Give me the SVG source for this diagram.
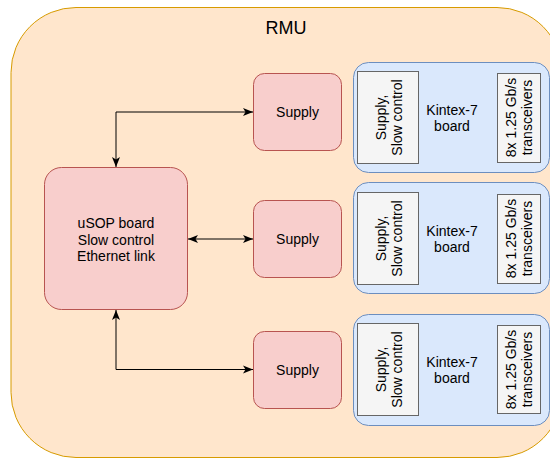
<svg xmlns="http://www.w3.org/2000/svg" width="550" height="458" viewBox="0 0 550 458">
  <style>
    text { font-family: "Liberation Sans", Arial, sans-serif; font-size: 14px; fill: #000; text-anchor: middle; }
    .outer { fill: #ffe6cc; stroke: #d79b00; stroke-width: 1; }
    .red { fill: #f8cecc; stroke: #b85450; stroke-width: 1; }
    .blue { fill: #dae8fc; stroke: #6c8ebf; stroke-width: 1; }
    .gray { fill: #f5f5f5; stroke: #666666; stroke-width: 1; }
    .conn { fill: none; stroke: #000; stroke-width: 1; }
  </style>
  <defs>
    <marker id="arr" markerUnits="userSpaceOnUse" viewBox="0 0 10 10" markerWidth="10" markerHeight="10" refX="10" refY="5" orient="auto-start-reverse">
      <path d="M0,1 L10,5 L0,9 L2.5,5 z" fill="#000"/>
    </marker>
  </defs>

  <g id="rmu">
    <rect class="outer" x="11" y="7.5" width="551" height="450" rx="65" ry="65"/>
    <text x="286" y="34" style="font-size:18px">RMU</text>
  </g>

  <g id="usop">
    <rect class="red" x="44.5" y="167.5" width="143" height="142" rx="17" ry="17"/>
    <text x="116" y="228">uSOP board</text>
    <text x="116" y="244.5">Slow control</text>
    <text x="116" y="261">Ethernet link</text>
  </g>

  <g id="supply1">
    <rect class="red" x="253.5" y="73.5" width="88" height="77" rx="11" ry="11"/>
    <text x="297.5" y="117">Supply</text>
  </g>
  <g id="supply2">
    <rect class="red" x="253.5" y="200.5" width="88" height="77" rx="11" ry="11"/>
    <text x="297.5" y="244">Supply</text>
  </g>
  <g id="supply3">
    <rect class="red" x="253.5" y="331.5" width="88" height="77" rx="11" ry="11"/>
    <text x="297.5" y="375">Supply</text>
  </g>

  <g id="kintex1">
    <rect class="blue" x="353.5" y="62.5" width="196" height="110" rx="15" ry="15"/>
    <rect class="gray" x="357.5" y="71.5" width="61" height="92"/>
    <g transform="translate(388,117.5) rotate(-90)">
      <text x="0" y="-2">Supply,</text>
      <text x="0" y="14">Slow control</text>
    </g>
    <text x="452" y="115">Kintex-7</text>
    <text x="452" y="131">board</text>
    <rect class="gray" x="497.5" y="73.5" width="43" height="89"/>
    <g transform="translate(519,117.5) rotate(-90)">
      <text x="0" y="-3">8x 1.25 Gb/s</text>
      <text x="0" y="13">transceivers</text>
    </g>
  </g>

  <g id="kintex2">
    <rect class="blue" x="353.5" y="182.5" width="196" height="111" rx="15" ry="15"/>
    <rect class="gray" x="357.5" y="192.5" width="61" height="92"/>
    <g transform="translate(388,238.5) rotate(-90)">
      <text x="0" y="-2">Supply,</text>
      <text x="0" y="14">Slow control</text>
    </g>
    <text x="452" y="236">Kintex-7</text>
    <text x="452" y="252">board</text>
    <rect class="gray" x="497.5" y="194.5" width="43" height="89"/>
    <g transform="translate(519,238.5) rotate(-90)">
      <text x="0" y="-3">8x 1.25 Gb/s</text>
      <text x="0" y="13">transceivers</text>
    </g>
  </g>

  <g id="kintex3">
    <rect class="blue" x="353.5" y="314.5" width="196" height="111" rx="15" ry="15"/>
    <rect class="gray" x="357.5" y="323.5" width="61" height="92"/>
    <g transform="translate(388,369.5) rotate(-90)">
      <text x="0" y="-2">Supply,</text>
      <text x="0" y="14">Slow control</text>
    </g>
    <text x="452" y="367">Kintex-7</text>
    <text x="452" y="383">board</text>
    <rect class="gray" x="497.5" y="325.5" width="43" height="88"/>
    <g transform="translate(519,369.5) rotate(-90)">
      <text x="0" y="-3">8x 1.25 Gb/s</text>
      <text x="0" y="13">transceivers</text>
    </g>
  </g>

  <g id="connectors">
    <path class="conn" d="M116,167 L116,112 L253,112" marker-start="url(#arr)" marker-end="url(#arr)"/>
    <path class="conn" d="M188,239 L253,239" marker-start="url(#arr)" marker-end="url(#arr)"/>
    <path class="conn" d="M116,310 L116,369.5 L253,369.5" marker-start="url(#arr)" marker-end="url(#arr)"/>
  </g>
</svg>
